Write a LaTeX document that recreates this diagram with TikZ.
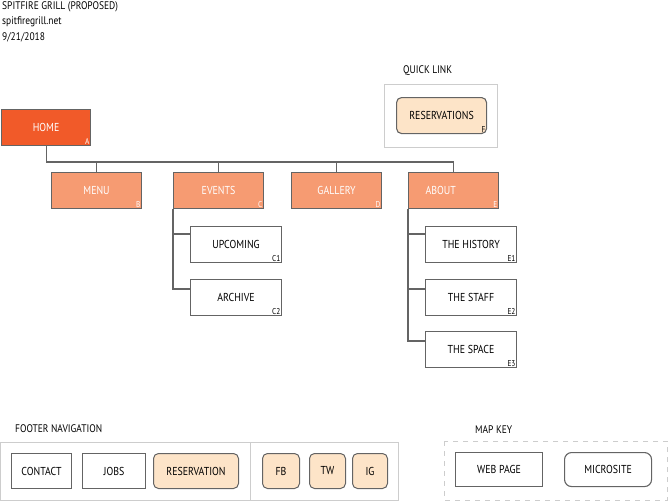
\documentclass[tikz,border=0pt]{standalone}
\usepackage{fontspec}
\setmainfont{PT Sans}[FakeStretch=0.86]
\usetikzlibrary{positioning}
\definecolor{HomeColor}{RGB}{241,90,41}
\definecolor{SectionColor}{RGB}{246,155,114}
\definecolor{MicroColor}{RGB}{253,228,200}
\definecolor{LineColor}{RGB}{100,100,100}
\definecolor{FrameColor}{RGB}{205,205,205}

\tikzset{
  box/.style={draw=LineColor, line width=1.1pt, anchor=north west, inner sep=0pt, font=\fontsize{11.5}{13}\selectfont},
  page/.style={box, fill=white},
  section/.style={box, fill=SectionColor, text=white},
  micro/.style={box, fill=MicroColor, rounded corners=5pt},
  link/.style={draw=LineColor, line width=1.1pt},
  frame/.style={draw=FrameColor, line width=1pt},
  title/.style={anchor=west, inner sep=0pt, font=\fontsize{11}{13}\selectfont},
}
\newcommand{\corner}[3][black]{\node[anchor=south east, inner sep=1.5pt, text=#1, font=\fontsize{8.5}{9}\selectfont] at (#2.south east) {#3};}

\begin{document}
\begin{tikzpicture}[x=1pt, y=-1pt]
	\useasboundingbox (0,0) rectangle (668,501);

	% Header

	\node [title] (t1) at (2,7) {SPITFIRE GRILL (PROPOSED)};
	\node [title] (t2) at (2,22) {spitfiregrill.net};
	\node [title] (t3) at (2,37) {9/21/2018};

	% Main pages

	\node [section, fill=HomeColor, minimum width=89pt, minimum height=36pt] (home) at (1,109) {HOME};
	\node [section, minimum width=90pt, minimum height=36pt] (menu) at (51,172) {MENU};
	\node [section, minimum width=90pt, minimum height=36pt] (events) at (173,172) {EVENTS};
	\node [section, minimum width=90pt, minimum height=36pt] (gallery) at (291,172) {GALLERY};
	\node [section, minimum width=90pt, minimum height=36pt, text width=90pt, align=left] (about) at (408,172) {\hspace*{17pt}ABOUT};
	\corner[white]{home}{A}
	\corner[white]{menu}{B}
	\corner[white]{events}{C}
	\corner[white]{gallery}{D}
	\corner[white]{about}{E}

	% Sub pages

	\node [page, minimum width=91pt, minimum height=36pt] (upcoming) at (190,226) {UPCOMING};
	\node [page, minimum width=91pt, minimum height=36pt] (archive) at (190,279) {ARCHIVE};
	\node [page, minimum width=91pt, minimum height=36pt] (history) at (425,226) {THE HISTORY};
	\node [page, minimum width=91pt, minimum height=36pt] (staff) at (425,279) {THE STAFF};
	\node [page, minimum width=91pt, minimum height=36pt] (space) at (425,331) {THE SPACE};
	\corner{upcoming}{C1}
	\corner{archive}{C2}
	\corner{history}{E1}
	\corner{staff}{E2}
	\corner{space}{E3}

	% Connectors

	\coordinate (bus) at (0,162);
	\draw [link] (home.south) |- (bus -| about.north) -- (about.north);
	\foreach \n in {menu, events, gallery}
		\draw [link] (\n.north) -- (bus -| \n.north);
	\draw [link] (events.south west) |- ([yshift=-10pt]archive.north west);
	\draw [link] ([yshift=-8pt]upcoming.north west) -- ++(-17,0);
	\draw [link] (about.south west) |- ([yshift=-10pt]space.north west);
	\draw [link] ([yshift=-8pt]history.north west) -- ++(-17,0);
	\draw [link] ([yshift=-10pt]staff.north west) -- ++(-17,0);

	% Quick link

	\node [title] (ql) at (403,71) {QUICK LINK};
	\draw [frame] (384,84) rectangle (497,147);
	\node [micro, minimum width=90pt, minimum height=36pt] (reserve) at (396,97) {RESERVATIONS};
	\corner{reserve}{F}

	% Footer navigation

	\node [title] (fn) at (15,429) {FOOTER NAVIGATION};
	\draw [frame] (0,442) rectangle (398,500);
	\draw [frame] (250,442) -- (250,500);
	\node [page, line width=1pt, minimum width=60pt, minimum height=35pt] (contact) at (11,453) {CONTACT};
	\node [page, line width=1pt, minimum width=63pt, minimum height=35pt] (jobs) at (82,453) {JOBS};
	\node [micro, line width=1pt, minimum width=85pt, minimum height=35pt] (reservation) at (153,453) {RESERVATION};
	\node [micro, line width=1pt, minimum width=37pt, minimum height=35pt] (fb) at (262,453) {FB};
	\node [micro, line width=1pt, minimum width=36pt, minimum height=35pt] (tw) at (309,453) {TW};
	\node [micro, line width=1pt, minimum width=35pt, minimum height=35pt] (ig) at (352,453) {IG};

	% Map key

	\node [title] (mk) at (475,430) {MAP KEY};
	\draw [frame, dashed, dash pattern=on 5pt off 5pt] (444,441) rectangle (667,500);
	\node [page, minimum width=87pt, minimum height=34pt] (webpage) at (455,452) {WEB PAGE};
	\node [page, rounded corners=7pt, minimum width=87pt, minimum height=34pt] (microsite) at (564,452) {MICROSITE};

\end{tikzpicture}
\end{document}
